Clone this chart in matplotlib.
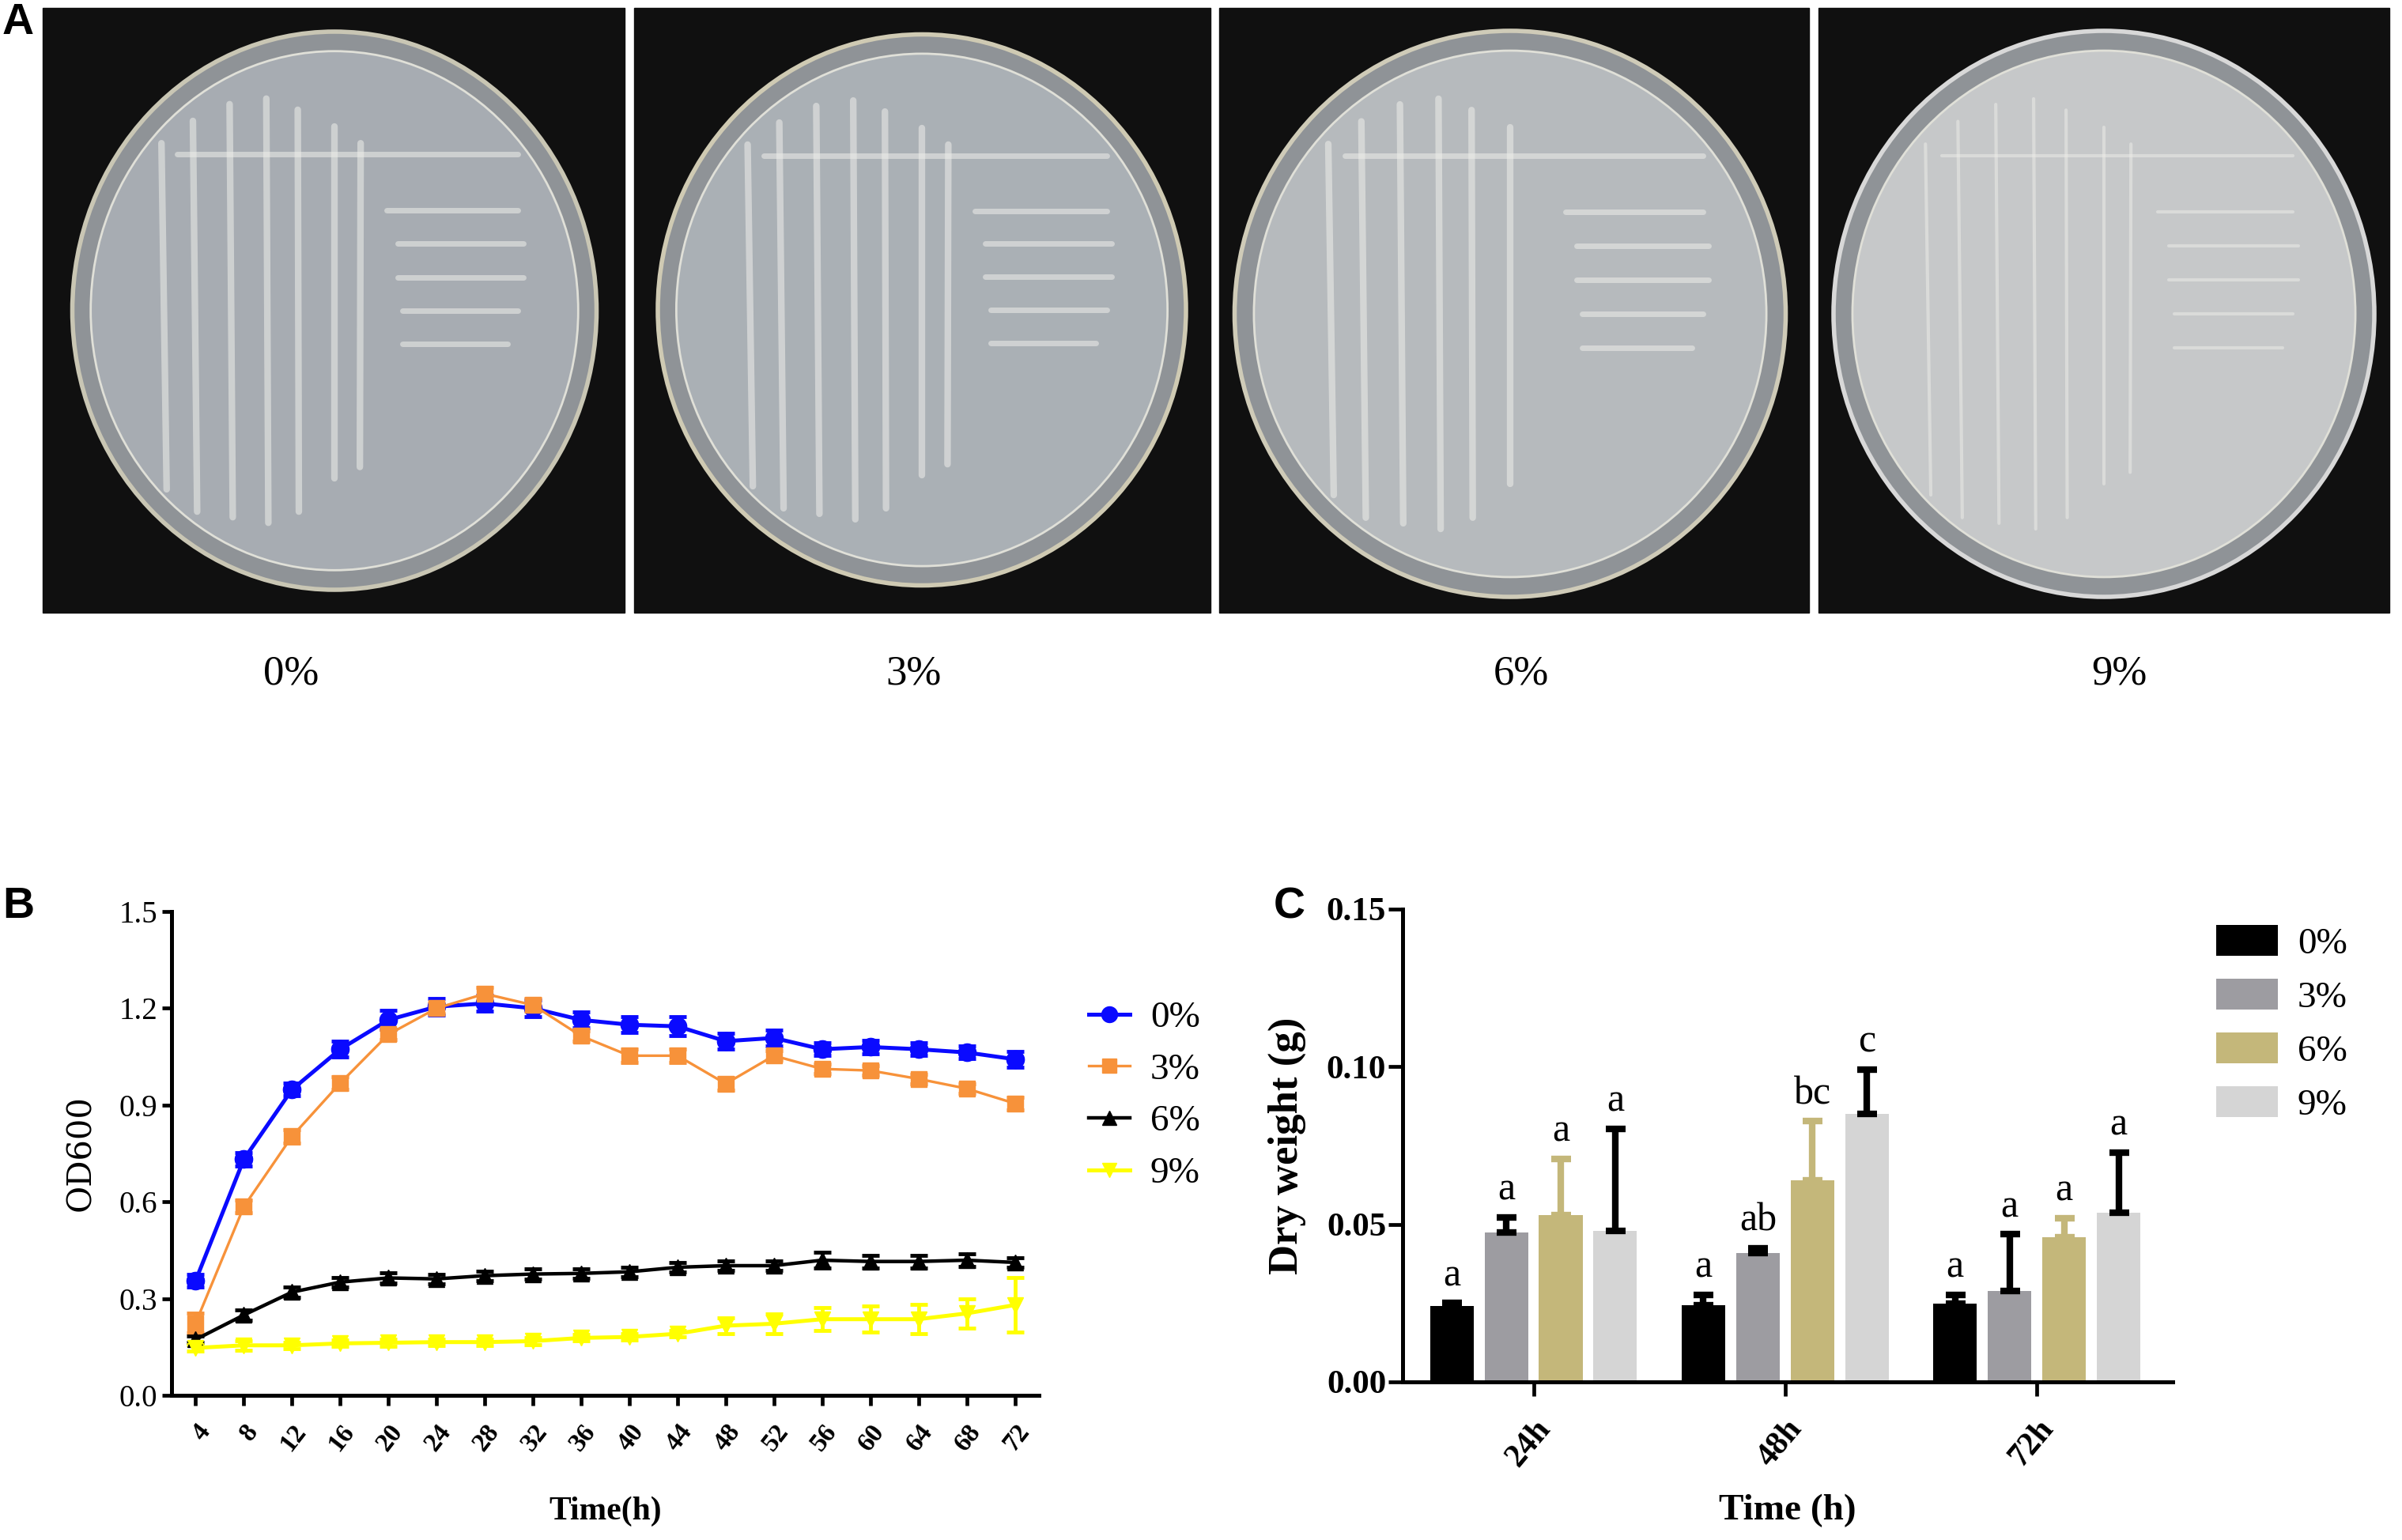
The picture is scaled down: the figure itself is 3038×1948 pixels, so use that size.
import matplotlib
matplotlib.use("Agg")
import matplotlib.pyplot as plt
from matplotlib.patches import Rectangle, Ellipse
from matplotlib.lines import Line2D
import numpy as np

# ---------------- data ----------------
photo_labels = ['0%', '3%', '6%', '9%']

times = [4, 8, 12, 16, 20, 24, 28, 32, 36, 40, 44, 48, 52, 56, 60, 64, 68, 72]
od_0 = [0.356, 0.732, 0.948, 1.073, 1.164, 1.205, 1.215, 1.200, 1.164, 1.149, 1.144, 1.098, 1.108, 1.073, 1.080, 1.073, 1.063, 1.042]
od_3 = [0.224, 0.585, 0.803, 0.968, 1.119, 1.200, 1.245, 1.210, 1.114, 1.053, 1.053, 0.966, 1.053, 1.012, 1.007, 0.981, 0.951, 0.905]
od_6 = [0.173, 0.249, 0.320, 0.351, 0.364, 0.361, 0.371, 0.376, 0.378, 0.383, 0.397, 0.402, 0.402, 0.419, 0.415, 0.415, 0.419, 0.412]
od_9 = [0.147, 0.155, 0.155, 0.161, 0.163, 0.165, 0.165, 0.168, 0.178, 0.181, 0.191, 0.216, 0.222, 0.236, 0.236, 0.236, 0.254, 0.280]
err_0 = [0.02, 0.02, 0.02, 0.025, 0.03, 0.025, 0.025, 0.025, 0.025, 0.025, 0.03, 0.025, 0.025, 0.02, 0.02, 0.02, 0.02, 0.025]
err_3 = [0.03, 0.02, 0.02, 0.02, 0.015, 0.015, 0.02, 0.02, 0.015, 0.02, 0.02, 0.02, 0.015, 0.015, 0.015, 0.015, 0.015, 0.02]
err_6 = [0.01, 0.015, 0.015, 0.015, 0.015, 0.015, 0.015, 0.015, 0.015, 0.015, 0.015, 0.015, 0.015, 0.025, 0.02, 0.02, 0.02, 0.015]
err_9 = [0.01, 0.015, 0.01, 0.01, 0.01, 0.01, 0.01, 0.01, 0.01, 0.01, 0.01, 0.025, 0.03, 0.035, 0.04, 0.045, 0.045, 0.085]
od_yticks = [0.0, 0.3, 0.6, 0.9, 1.2, 1.5]

groups = ['24h', '48h', '72h']
conc = ['0%', '3%', '6%', '9%']
dw_0 = [0.0241, 0.0244, 0.0248]
dw_3 = [0.0473, 0.0408, 0.0288]
dw_6 = [0.0530, 0.0640, 0.0460]
dw_9 = [0.0479, 0.0850, 0.0536]
dwe_0 = [0.0009, 0.0032, 0.0028]
dwe_3 = [0.0049, 0.0016, 0.0180]
dwe_6 = [0.0177, 0.0187, 0.0060]
dwe_9 = [0.0324, 0.0141, 0.0192]
let_0 = ['a', 'a', 'a']
let_3 = ['a', 'ab', 'a']
let_6 = ['a', 'bc', 'a']
let_9 = ['a', 'c', 'a']
dw_yticks = [0.00, 0.05, 0.10, 0.15]

# ---------------- figure ----------------
W, H = 3038, 1948
fig = plt.figure(figsize=(W / 100, H / 100), dpi=100)
plt.rcParams['font.family'] = ['Liberation Serif', 'DejaVu Serif']

# ---- Panel A (photo imitation) ----
bg = fig.add_axes([0, 0, 1, 1])
bg.set_xlim(0, W)
bg.set_ylim(H, 0)
bg.axis('off')
frames = [(54, 10, 736, 765), (802, 10, 729, 765), (1542, 10, 746, 765), (2300, 10, 722, 765)]
dishes = [(423, 393, 663, 706), (1166, 392, 668, 697), (1910, 397, 697, 716), (2661, 397, 684, 716)]
label_x = [368, 1155, 1924, 2680]
dish_fill = ['#a7acb2', '#aab0b5', '#b6babd', '#c6c8c9']
rim_col = ['#c9c6b4', '#cfcab3', '#cfcbb8', '#d8d8d8']
# relative streak positions (fractions of dish width/height) - decoration only
vstreaks = [(-0.33, -0.3, 0.32), (-0.27, -0.34, 0.36), (-0.2, -0.37, 0.37), (-0.13, -0.38, 0.38),
            (-0.07, -0.36, 0.36), (0.0, -0.33, 0.3), (0.05, -0.3, 0.28)]
hstreaks = [(-0.28, -0.3, 0.35), (-0.18, 0.1, 0.35), (-0.12, 0.12, 0.36), (-0.06, 0.12, 0.36),
            (0.0, 0.13, 0.35), (0.06, 0.13, 0.33)]
for i, (fr, d) in enumerate(zip(frames, dishes)):
    bg.add_patch(Rectangle((fr[0], fr[1]), fr[2], fr[3], color='#101010', zorder=1))
    cx, cy, w, h = d
    bg.add_patch(Ellipse((cx, cy), w, h, facecolor='#8f9397', edgecolor=rim_col[i], lw=4, zorder=2))
    bg.add_patch(Ellipse((cx, cy), w * 0.93, h * 0.93, facecolor=dish_fill[i], edgecolor='#e0e0d8', lw=2, zorder=3))
    a = 0.55 if i < 3 else 0.5
    for (fx, fy0, fy1) in vstreaks:
        if i == 2 and fx > 0.02:
            continue
        bg.plot([cx + fx * w, cx + fx * w * 0.97], [cy + fy0 * h, cy + fy1 * h], color='#eeeeea',
                lw=6 if i < 3 else 3, alpha=a, solid_capstyle='round', zorder=4)
    for (fy, fx0, fx1) in hstreaks:
        bg.plot([cx + fx0 * w, cx + fx1 * w], [cy + fy * h, cy + fy * h], color='#eeeeea',
                lw=5 if i < 3 else 3, alpha=a, solid_capstyle='round', zorder=4)
    bg.text(label_x[i], 852, photo_labels[i], fontsize=38, ha='center', va='center')

letter_font = dict(fontsize=40, fontweight='bold', family=['Liberation Sans'], ha='center', va='center')
bg.text(23, 29, 'A', **letter_font)
bg.text(23, 1147, 'B', **letter_font)
bg.text(1631, 1147, 'C', **letter_font)

# ---- Panel B ----
axB = fig.add_axes([217 / W, 1 - 1765 / H, (1314 - 217) / W, (1765 - 1153) / H])
series = [(od_0, err_0, '#0a0aff', 'o', 16, 3.6, '0%'),
          (od_3, err_3, '#f7923a', 's', 14, 2.4, '3%'),
          (od_6, err_6, '#000000', '^', 15, 3.2, '6%'),
          (od_9, err_9, '#ffff00', 'v', 15, 3.6, '9%')]
handles = []
for vals, errs, col, mk, ms, lw, lab in series:
    axB.errorbar(times, vals, yerr=errs, color=col, marker=mk, markersize=ms, lw=lw,
                 elinewidth=3.5, capsize=8, capthick=3.5, zorder=3, clip_on=False)
    handles.append(Line2D([0], [0], color=col, marker=mk, markersize=ms, lw=lw, label=lab))
axB.set_xlim(2, 74)
axB.set_ylim(0, 1.5)
axB.set_yticks(od_yticks)
axB.set_yticklabels([f'{v:.1f}' for v in od_yticks])
axB.set_xticks(times)
axB.set_xticklabels([str(t) for t in times], rotation=52, ha='right', va='top',
                    rotation_mode='anchor', fontweight='bold')
for s in ['top', 'right']:
    axB.spines[s].set_visible(False)
for s in ['left', 'bottom']:
    axB.spines[s].set_linewidth(3.6)
axB.tick_params(axis='both', width=3.4, length=9, direction='out', labelsize=28, pad=4)
axB.tick_params(axis='x', labelsize=24, pad=13)
axB.set_ylabel('OD600', fontsize=30, family=['DejaVu Serif'])
axB.yaxis.set_label_coords(-0.086, 0.5)
axB.set_xlabel('Time(h)', fontsize=30, fontweight='bold')
axB.xaxis.set_label_coords(0.5, -0.209)
fig.legend(handles=handles, loc='upper left', bbox_to_anchor=(1377 / W, 1 - 1266 / H),
           frameon=False, fontsize=34, handlelength=1.1, handletextpad=0.55,
           labelspacing=0.48, borderpad=0, borderaxespad=0, markerscale=0.9)

# ---- Panel C ----
axC = fig.add_axes([1774 / W, 1 - 1748 / H, (2748 - 1774) / W, 598 / H])
bar_cols = ['#000000', '#9d9ca1', '#c4b77a', '#d5d5d5']
err_cols = ['#000000', '#000000', '#c4b77a', '#000000']
bar_vals = [dw_0, dw_3, dw_6, dw_9]
bar_errs = [dwe_0, dwe_3, dwe_6, dwe_9]
bar_lets = [let_0, let_3, let_6, let_9]
xg = np.arange(len(groups))
pitch, bw = 0.2166, 0.173
for i in range(4):
    xs = xg + (i - 1.5) * pitch
    axC.bar(xs, bar_vals[i], width=bw, color=bar_cols[i], label=conc[i], zorder=2)
    axC.errorbar(xs, bar_vals[i], yerr=[np.zeros(3), bar_errs[i]], fmt='none', ecolor=err_cols[i],
                 elinewidth=6, capsize=9, capthick=6, zorder=3)
    for x, v, e, l in zip(xs, bar_vals[i], bar_errs[i], bar_lets[i]):
        axC.text(x, v + e + 0.0028, l, ha='center', va='bottom', fontsize=36)
axC.set_xlim(-0.52, 2.54)
axC.set_ylim(0, 0.15)
axC.set_yticks(dw_yticks)
axC.set_yticklabels([f'{v:.2f}' for v in dw_yticks])
axC.set_xticks(xg)
axC.set_xticklabels(groups, rotation=50, ha='right', va='top', rotation_mode='anchor', fontweight='bold')
for s in ['top', 'right']:
    axC.spines[s].set_visible(False)
for s in ['left', 'bottom']:
    axC.spines[s].set_linewidth(3.6)
axC.tick_params(axis='both', width=3.4, length=13, direction='out', labelsize=31, pad=2)
axC.tick_params(axis='y', labelsize=31)
axC.tick_params(axis='x', labelsize=30, pad=16)
for lbl in axC.get_yticklabels():
    lbl.set_fontweight('bold')
axC.set_ylabel('Dry weight (g)', fontsize=38, fontweight='bold')
axC.yaxis.set_label_coords(-0.125, 0.5)
axC.set_xlabel('Time (h)', fontsize=34, fontweight='bold')
axC.xaxis.set_label_coords(0.5, -0.237)
fig.legend(*axC.get_legend_handles_labels(), loc='upper left', bbox_to_anchor=(2803 / W, 1 - 1170 / H),
           frameon=False, fontsize=34, handlelength=1.65, handleheight=0.9, handletextpad=0.53,
           labelspacing=0.47, borderpad=0, borderaxespad=0)

fig.savefig('out.png', dpi=100)
